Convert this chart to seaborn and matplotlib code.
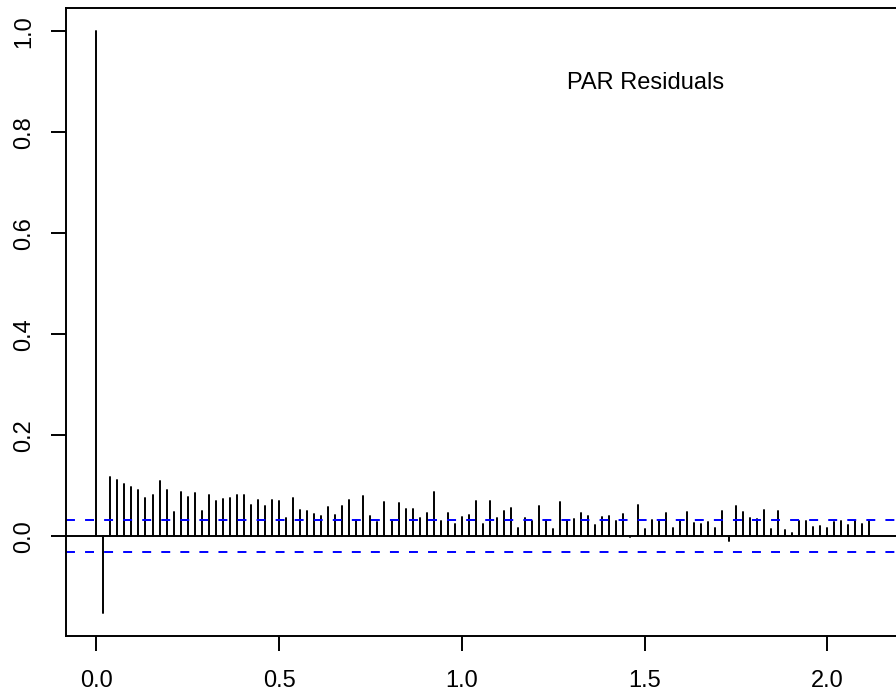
import numpy as np
import pandas as pd
import matplotlib
matplotlib.use("Agg")
import matplotlib.pyplot as plt
import seaborn as sns

# ---- data ----
frequency = 52
acf_values = [
    1.000, -0.152, 0.117, 0.112, 0.104, 0.097, 0.092, 0.076, 0.082, 0.110,
    0.092, 0.048, 0.087, 0.077, 0.085, 0.051, 0.081, 0.069, 0.073, 0.076,
    0.081, 0.081, 0.063, 0.072, 0.061, 0.071, 0.069, 0.036, 0.075, 0.053,
    0.051, 0.045, 0.040, 0.058, 0.042, 0.061, 0.071, 0.032, 0.079, 0.040,
    0.028, 0.067, 0.031, 0.065, 0.054, 0.055, 0.036, 0.046, 0.087, 0.030,
    0.046, 0.024, 0.039, 0.042, 0.069, 0.024, 0.069, 0.036, 0.051, 0.056,
    0.016, 0.036, 0.031, 0.061, 0.032, 0.014, 0.068, 0.031, 0.035, 0.046,
    0.040, 0.023, 0.038, 0.040, 0.030, 0.044, -0.002, 0.063, 0.015, 0.032,
    0.030, 0.046, 0.017, 0.030, 0.048, 0.026, 0.025, 0.028, 0.017, 0.050,
    -0.009, 0.061, 0.049, 0.037, 0.035, 0.052, 0.015, 0.051, 0.012, 0.007,
    0.031, 0.031, 0.019, 0.020, 0.017, 0.029, 0.030, 0.022, 0.031, 0.024,
    0.030,
]
lag_index = list(range(len(acf_values)))
conf_limit = 0.0315
x_ticks = [0.0, 0.5, 1.0, 1.5, 2.0]
x_tick_labels = ["0.0", "0.5", "1.0", "1.5", "2.0"]
y_ticks = [0.0, 0.2, 0.4, 0.6, 0.8, 1.0]
y_tick_labels = ["0.0", "0.2", "0.4", "0.6", "0.8", "1.0"]
title_text = "PAR Residuals"

# ---- build long table for spikes ----
lags = np.array(lag_index) / frequency
rows = []
for k, (lx, v) in enumerate(zip(lags, acf_values)):
    rows.append({"lag": k, "x": lx, "y": 0.0, "order": 0})
    rows.append({"lag": k, "x": lx, "y": v, "order": 1})
df = pd.DataFrame(rows)

sns.set_style("white")
plt.rcParams["font.family"] = ["Liberation Sans", "DejaVu Sans"]

fig = plt.figure(figsize=(8.96, 6.93), dpi=100)
ax = fig.add_axes([65.7 / 896, 57.3 / 693, (900.3 - 65.7) / 896, (635.7 - 8.1) / 693])

lw = 1.4
sns.lineplot(data=df, x="x", y="y", units="lag", estimator=None, sort=False,
             color="black", linewidth=lw, ax=ax, legend=False)

ax.axhline(0, color="black", linewidth=lw)
ax.axhline(conf_limit, color="#0000FF", linewidth=lw, linestyle=(0, (4.6, 5.2)))
ax.axhline(-conf_limit, color="#0000FF", linewidth=lw, linestyle=(0, (4.6, 5.2)))

ax.set_xlim(-0.0837, 2.1997)
ax.set_ylim(-0.1968, 1.046)

ax.set_xticks(x_ticks)
ax.set_xticklabels(x_tick_labels)
ax.set_yticks(y_ticks)
ax.set_yticklabels(y_tick_labels, rotation=90, va="center")
ax.set_xlabel("")
ax.set_ylabel("")

ax.tick_params(axis="both", direction="out", length=10.8, width=lw,
               labelsize=17, color="black", labelcolor="black",
               bottom=True, left=True, top=False, right=False)
ax.tick_params(axis="x", pad=14)
ax.tick_params(axis="y", pad=11)

for s in ax.spines.values():
    s.set_visible(True)
    s.set_color("black")
    s.set_linewidth(lw)

ax.text(1.504, 0.898, title_text, ha="center", va="center", fontsize=17, color="black")

fig.savefig("out.png", dpi=100)
